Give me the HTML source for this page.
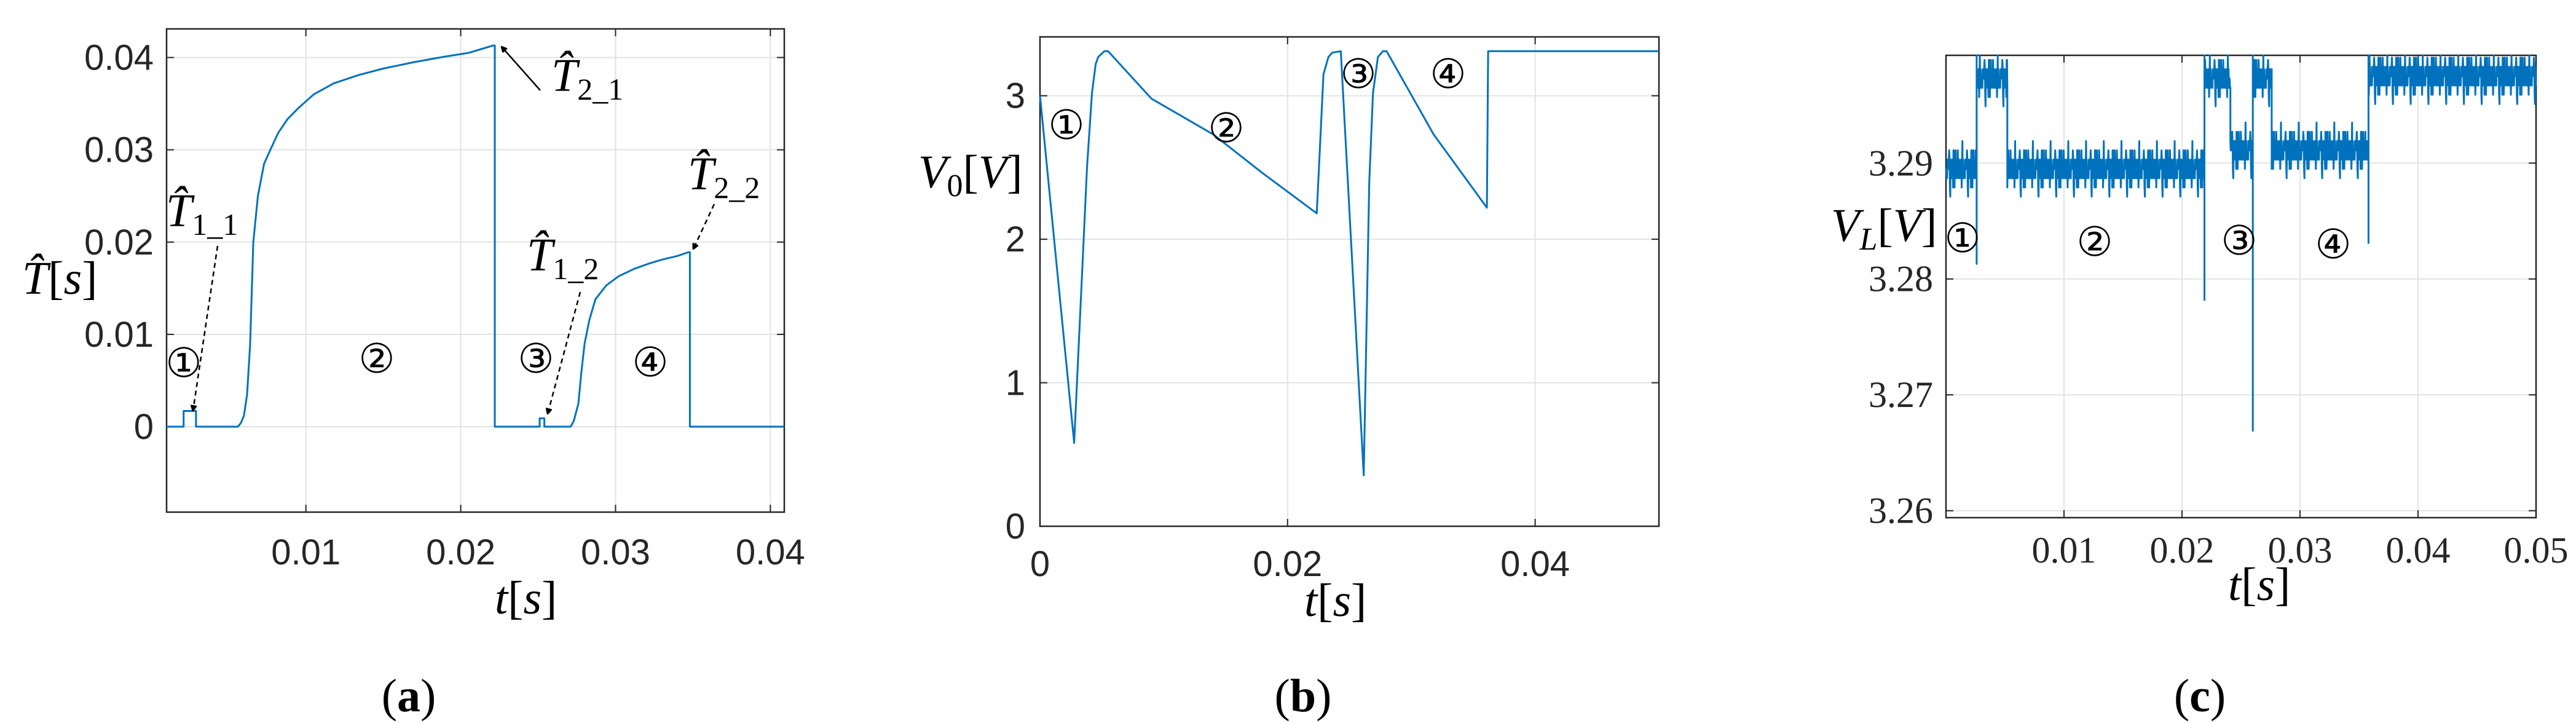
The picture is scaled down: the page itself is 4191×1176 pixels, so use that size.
<!DOCTYPE html>
<html><head><meta charset="utf-8"><style>
html,body{margin:0;padding:0;background:#fff;}
svg{display:block;}
.tk{font-family:"Liberation Sans",sans-serif;font-size:58px;fill:#262626;}
.tks{font-family:"Liberation Serif",serif;font-size:60px;fill:#262626;}
.math{font-family:"Liberation Serif",serif;font-style:italic;font-size:76px;fill:#000;}
.up{font-style:normal;}
.circ{font-family:"DejaVu Sans",sans-serif;font-size:66px;fill:#000;}
.cap{font-family:"Liberation Serif",serif;font-size:76px;fill:#000;}
</style></head><body>
<svg id="fig" width="4191" height="1176" viewBox="0 0 4191 1176" xmlns="http://www.w3.org/2000/svg">
<defs>
<marker id="ah" viewBox="0 0 10 10" refX="9" refY="5" markerWidth="10" markerHeight="10" orient="auto-start-reverse" markerUnits="userSpaceOnUse"><path d="M0,0 L10,5 L0,10 z" fill="#000" transform="scale(2.4) translate(-5,-2.9)"/></marker>
</defs>
<g id="pa"></g>
<g id="pb"></g>
<g id="pc"></g>

<!-- panel a labels -->
<text class="math" x="36" y="478">T̂<tspan class="up">[</tspan>s<tspan class="up">]</tspan></text>
<text class="math" x="805" y="998">t<tspan class="up">[</tspan>s<tspan class="up">]</tspan></text>
<text class="cap" x="665" y="1157" text-anchor="middle">(<tspan font-weight="bold">a</tspan>)</text>
<text class="circ" x="299" y="613" text-anchor="middle">①</text>
<text class="circ" x="613" y="606" text-anchor="middle">②</text>
<text class="circ" x="872" y="606" text-anchor="middle">③</text>
<text class="circ" x="1058" y="612" text-anchor="middle">④</text>
<text class="math" x="270" y="368">T̂<tspan class="up" font-size="50" dy="14">1_1</tspan></text>
<text class="math" x="897" y="148">T̂<tspan class="up" font-size="50" dy="14">2_1</tspan></text>
<text class="math" x="857" y="440">T̂<tspan class="up" font-size="50" dy="14">1_2</tspan></text>
<text class="math" x="1119" y="308">T̂<tspan class="up" font-size="50" dy="14">2_2</tspan></text>
<line x1="354" y1="400" x2="314" y2="668" stroke="#000" stroke-width="2.5" stroke-dasharray="8,6" marker-end="url(#ah)"/>
<line x1="879" y1="147" x2="816" y2="76" stroke="#000" stroke-width="2.5" marker-end="url(#ah)"/>
<line x1="944" y1="475" x2="891" y2="673" stroke="#000" stroke-width="2.5" stroke-dasharray="8,6" marker-end="url(#ah)"/>
<line x1="1162" y1="332" x2="1128" y2="405" stroke="#000" stroke-width="2.5" stroke-dasharray="8,6" marker-end="url(#ah)"/>

<!-- panel b labels -->
<text class="math" x="1494" y="305">V<tspan class="up" font-size="52" dy="14">0</tspan><tspan class="up" dy="-14">[</tspan>V<tspan class="up">]</tspan></text>
<text class="math" x="2122" y="1002">t<tspan class="up">[</tspan>s<tspan class="up">]</tspan></text>
<text class="cap" x="2120" y="1157" text-anchor="middle">(<tspan font-weight="bold">b</tspan>)</text>
<text class="circ" x="1735" y="226" text-anchor="middle">①</text>
<text class="circ" x="1995" y="231" text-anchor="middle">②</text>
<text class="circ" x="2210" y="143" text-anchor="middle">③</text>
<text class="circ" x="2356" y="143" text-anchor="middle">④</text>

<!-- panel c labels -->
<text class="math" x="2979" y="392">V<tspan font-size="52" dy="14">L</tspan><tspan class="up" dy="-14">[</tspan>V<tspan class="up">]</tspan></text>
<text class="math" x="3625" y="976">t<tspan class="up">[</tspan>s<tspan class="up">]</tspan></text>
<text class="cap" x="3579" y="1157" text-anchor="middle">(<tspan font-weight="bold">c</tspan>)</text>
<text class="circ" x="3193" y="410" text-anchor="middle">①</text>
<text class="circ" x="3408" y="416" text-anchor="middle">②</text>
<text class="circ" x="3643" y="414" text-anchor="middle">③</text>
<text class="circ" x="3796" y="420" text-anchor="middle">④</text>
</svg>
<script>
// ---- Panel (a) data: estimated T-hat [s] vs t [s]
const aTime = [0.001,0.0021,0.0021,0.0029,0.0029,0.0056,0.0058,0.0060,0.0062,0.0064,0.0066,0.0069,0.0073,0.0077,0.0082,0.0088,0.0095,0.0105,0.0118,0.0134,0.0150,0.0170,0.0190,0.0205,0.0221,0.0222,0.0222,0.0251,0.0251,0.0254,0.0254,0.0271,0.0273,0.0276,0.0278,0.0280,0.0283,0.0287,0.0294,0.0302,0.0312,0.0322,0.0330,0.0340,0.0347,0.0348,0.0348,0.0409];
const aValue = [0,0,0.0017,0.0017,0,0,0.0004,0.0012,0.0035,0.009,0.02,0.025,0.0285,0.030,0.0318,0.0333,0.0345,0.036,0.0372,0.0381,0.0388,0.0395,0.0401,0.0405,0.0413,0.0413,0,0,0.0009,0.0009,0,0,0.0006,0.0025,0.006,0.009,0.0115,0.0138,0.0153,0.0163,0.0171,0.0177,0.0181,0.0185,0.0189,0.0189,0,0];
const aYTicks = [0,0.01,0.02,0.03,0.04];
const aYTickLabels = ["0","0.01","0.02","0.03","0.04"];
const aXTicks = [0.01,0.02,0.03,0.04];
const aXTickLabels = ["0.01","0.02","0.03","0.04"];

// ---- Panel (b) data: V0 [V]
const bTime = [0,0.00276,0.0038,0.0042,0.0045,0.0047,0.0052,0.0055,0.009,0.014,0.018,0.02236,0.0229,0.0233,0.0236,0.0243,0.0244,0.02615,0.0266,0.0269,0.0273,0.0277,0.028,0.0318,0.0361,0.0362,0.05];
const bValue = [3.0,0.58,2.5,3.02,3.22,3.27,3.31,3.31,2.98,2.73,2.46,2.18,3.15,3.27,3.30,3.31,3.15,0.355,2.4,3.02,3.27,3.31,3.31,2.73,2.22,3.31,3.31];
const bYTicks = [0,1,2,3];
const bYTickLabels = ["0","1","2","3"];
const bXTicks = [0,0.02,0.04];
const bXTickLabels = ["0","0.02","0.04"];

// ---- Panel (c) data: VL [V], segment levels + read noise pattern
const cSegStart = [0,0.0026,0.0052,0.0219,0.0241,0.026,0.0276,0.0358];
const cSegEnd = [0.0026,0.0052,0.0219,0.0241,0.026,0.0276,0.0358,0.05];
const cSegLevel = [3.2895,3.2973,3.2895,3.2973,3.2911,3.2973,3.2911,3.2975];
const cSpikeTime = [0.0026,0.0219,0.026,0.0358];
const cSpikeValue = [3.2813,3.2782,3.2669,3.2831];
const cNoiseSteps = [0,1,-1,0,2,-1,1,0,-2,1,0,-1,1,2,-1,0,-1,1,-2,0,1,-1,3,0,-1,1,0,-2,1,-1,0,2,-1,1,-3,0,1,-1,0,2,-2,1,0,-1,1,0,-1,2,-1,0];
const cNoiseStep = 0.0008;
const cYTicks = [3.26,3.27,3.28,3.29];
const cYTickLabels = ["3.26","3.27","3.28","3.29"];
const cXTicks = [0.01,0.02,0.03,0.04,0.05];
const cXTickLabels = ["0.01","0.02","0.03","0.04","0.05"];

const NS = "http://www.w3.org/2000/svg";
function mk(tag, parent, attrs){ const e=document.createElementNS(NS,tag); for(const k in attrs) e.setAttribute(k,attrs[k]); parent.appendChild(e); return e; }

function axes(g, cfg){
  const sx = v => cfg.L + (v-cfg.x0)/(cfg.x1-cfg.x0)*(cfg.R-cfg.L);
  const sy = v => cfg.B - (v-cfg.y0)/(cfg.y1-cfg.y0)*(cfg.B-cfg.T);
  cfg.yTicks.forEach((v,i)=>{
    const y=sy(v);
    const gl=mk('line',g,{x1:cfg.L,x2:cfg.R,y1:y,y2:y,stroke:'#e3e3e3','stroke-width':2});
    
    
    mk('line',g,{x1:cfg.L,x2:cfg.L+12,y1:y,y2:y,stroke:'#262626','stroke-width':2});
    mk('line',g,{x1:cfg.R-12,x2:cfg.R,y1:y,y2:y,stroke:'#262626','stroke-width':2});
    const t=mk('text',g,{x:cfg.yLabX,y:y+20,'text-anchor':'end','class':cfg.tcls});
    t.textContent=cfg.yLabels[i];
    
    
  });
  cfg.xTicks.forEach((v,i)=>{
    const x=sx(v);
    const gl=mk('line',g,{x1:x,x2:x,y1:cfg.T,y2:cfg.B,stroke:'#e3e3e3','stroke-width':2});
    
    
    mk('line',g,{x1:x,x2:x,y1:cfg.B-12,y2:cfg.B,stroke:'#262626','stroke-width':2});
    mk('line',g,{x1:x,x2:x,y1:cfg.T,y2:cfg.T+12,stroke:'#262626','stroke-width':2});
    const t=mk('text',g,{x:x,y:cfg.xLabY,'text-anchor':'middle','class':cfg.tcls});
    t.textContent=cfg.xLabels[i];
    
    
  });
  const box=mk('rect',g,{x:cfg.L,y:cfg.T,width:cfg.R-cfg.L,height:cfg.B-cfg.T,fill:'none',stroke:'#262626','stroke-width':2.5});
  
  
  return {sx,sy};
}

function series(g, xs, ys, s, name){
  const pts = xs.map((t,i)=> s.sx(t).toFixed(1)+','+s.sy(ys[i]).toFixed(1)).join(' ');
  const p=mk('polyline',g,{points:pts,fill:'none',stroke:'#0072BD','stroke-width':3,'stroke-linejoin':'round'});
  
  
}

// Panel a
const ga=document.getElementById('pa');
const sa=axes(ga,{L:271,R:1276,T:47,B:833,x0:0.001,x1:0.0409,y0:-0.00926,y1:0.0431,yTicks:aYTicks,yLabels:aYTickLabels,xTicks:aXTicks,xLabels:aXTickLabels,yLabX:250,xLabY:918,tcls:'tk'});
series(ga,aTime,aValue,sa,'t-hat-line');

// Panel b
const gb=document.getElementById('pb');
const sb=axes(gb,{L:1692,R:2699,T:60,B:856,x0:0,x1:0.05,y0:0,y1:3.41,yTicks:bYTicks,yLabels:bYTickLabels,xTicks:bXTicks,xLabels:bXTickLabels,yLabX:1668,xLabY:937,tcls:'tk'});
series(gb,bTime,bValue,sb,'v0-line');

// Panel c
const gc=document.getElementById('pc');
const sc=axes(gc,{L:3166,R:4126,T:90,B:842,x0:0,x1:0.05,y0:3.2594,y1:3.2993,yTicks:cYTicks,yLabels:cYTickLabels,xTicks:cXTicks,xLabels:cXTickLabels,yLabX:3145,xLabY:915,tcls:'tks'});
const cT=[], cV=[];
let k=0;
cSegStart.forEach((t0,si)=>{
  const t1=cSegEnd[si];
  const n=Math.max(2,Math.round((t1-t0)/0.00003));
  for(let j=0;j<n;j++){
    const t=t0+(t1-t0)*j/(n-1);
    let v=cSegLevel[si]+cNoiseSteps[k%cNoiseSteps.length]*cNoiseStep;
    k+=7;
    v=Math.min(3.2993,v);
    cT.push(t); cV.push(v);
  }
  const sp=cSpikeTime.indexOf(t1);
  if(sp>=0){ cT.push(t1); cV.push(cSpikeValue[sp]); cT.push(t1); cV.push(3.2993); }
});
series(gc,cT,cV,sc,'vl-line');
</script>
</body></html>
